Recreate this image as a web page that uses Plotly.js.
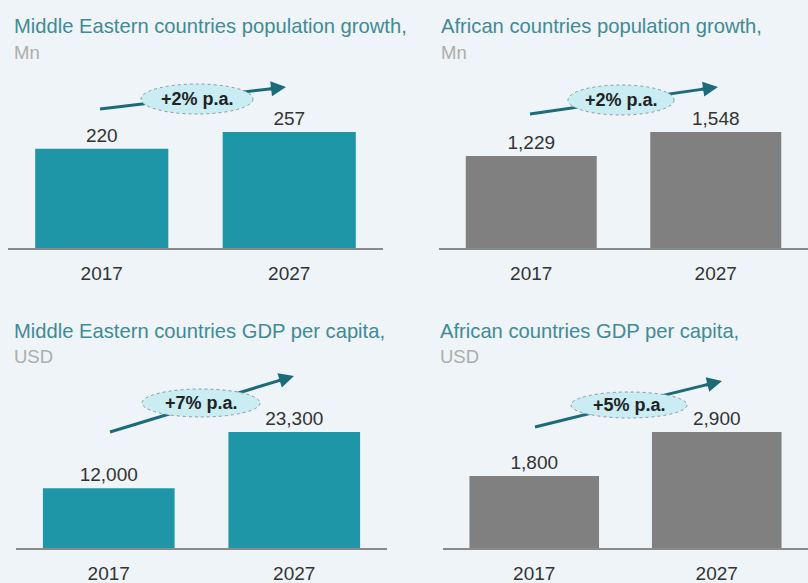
<!DOCTYPE html>
<html><head><meta charset="utf-8">
<script src="https://cdn.plot.ly/plotly-3.0.1.min.js"></script>
<style>html,body{margin:0;padding:0;background:#eef4f7;}</style>
</head><body><div id="chart" style="width:808px;height:583px;"></div>
<script>
var years = ['2017', '2027'];
var mePopulation = [220, 257];
var afPopulation = [1229, 1548];
var meGdp = [12000, 23300];
var afGdp = [1800, 2900];
var titles = ['Middle Eastern countries population growth,', 'African countries population growth,',
              'Middle Eastern countries GDP per capita,', 'African countries GDP per capita,'];
var units = ['Mn', 'Mn', 'USD', 'USD'];
var growth = ['+2% p.a.', '+2% p.a.', '+7% p.a.', '+5% p.a.'];

var W = 808, H = 583;
var teal = 'rgb(31,150,168)', grey = 'rgb(128,128,128)';
function px(x){return x / W;}
function py(y){return 1 - y / H;}

var series = [mePopulation, afPopulation, meGdp, afGdp];
var colors = [teal, grey, teal, grey];
var traces = [];
for (var i = 0; i < 4; i++) {
  var s = i === 0 ? '' : String(i + 1);
  traces.push({
    type: 'bar', x: years, y: series[i], xaxis: 'x' + s, yaxis: 'y' + s,
    marker: {color: colors[i]}, width: 0.71,
    texttemplate: '%{y:,}', textposition: 'outside', cliponaxis: false,
    textfont: {family: 'Liberation Sans, Arial, sans-serif', size: 19, color: '#333'},
    hoverinfo: 'skip'
  });
}

// panel pixel geometry
var panels = [
  {x0: 8, x1: 383, base: 248, top: 132, tx: 12, ty: 26, uy: 52},
  {x0: 439, x1: 808, base: 248, top: 132, tx: 439, ty: 26, uy: 52},
  {x0: 16, x1: 387, base: 548, top: 432, tx: 12, ty: 331, uy: 356},
  {x0: 443, x1: 808, base: 548, top: 432, tx: 438, ty: 331, uy: 356}
];
// growth arrow geometry: tail, head, ellipse centre/size
var arrows = [
  {t: [100, 109], h: [286, 87], c: [197, 99], rx: 56, ry: 15},
  {t: [530, 114], h: [718, 87], c: [621, 100], rx: 53, ry: 15},
  {t: [110, 432], h: [294, 376], c: [201, 403], rx: 59, ry: 14},
  {t: [535, 427], h: [722, 381], c: [629, 405], rx: 58, ry: 13}
];

var layout = {
  width: W, height: H, margin: {l: 0, r: 0, t: 0, b: 0},
  paper_bgcolor: '#eef4f7', plot_bgcolor: 'rgba(0,0,0,0)',
  showlegend: false,
  font: {family: 'Liberation Sans, Arial, sans-serif'},
  shapes: [], annotations: []
};
for (var i = 0; i < 4; i++) {
  var s = i === 0 ? '' : String(i + 1);
  var p = panels[i];
  layout['xaxis' + s] = {
    domain: [px(p.x0), px(p.x1)], anchor: 'y' + s, type: 'category',
    range: [-0.5, 1.5], showline: true, linecolor: '#8a8a8a', linewidth: 2,
    ticks: '', showgrid: false, zeroline: false, fixedrange: true,
    tickfont: {size: 19, color: '#333'}, ticklabelstandoff: 7
  };
  layout['yaxis' + s] = {
    domain: [py(p.base), py(p.top)], anchor: 'x' + s,
    range: [0, Math.max.apply(null, series[i])], visible: false, fixedrange: true
  };
  layout.annotations.push({
    xref: 'paper', yref: 'paper', x: px(p.tx), y: py(p.ty), xanchor: 'left', yanchor: 'middle',
    showarrow: false, text: titles[i],
    font: {size: 20.2, color: 'rgb(66,138,148)'}
  });
  layout.annotations.push({
    xref: 'paper', yref: 'paper', x: px(p.tx), y: py(p.uy), xanchor: 'left', yanchor: 'middle',
    showarrow: false, text: units[i],
    font: {size: 18.5, color: '#adadad'}
  });
  var a = arrows[i];
  var dx = a.h[0] - a.t[0], dy = a.h[1] - a.t[1];
  var len = Math.sqrt(dx * dx + dy * dy);
  layout.shapes.push({
    type: 'line', xref: 'paper', yref: 'paper',
    x0: px(a.t[0]), y0: py(a.t[1]), x1: px(a.h[0] - dx / len * 8), y1: py(a.h[1] - dy / len * 8),
    line: {color: '#1d6b78', width: 3}
  });
  layout.shapes.push({
    type: 'circle', xref: 'paper', yref: 'paper',
    x0: px(a.c[0] - a.rx), x1: px(a.c[0] + a.rx), y0: py(a.c[1] + a.ry), y1: py(a.c[1] - a.ry),
    fillcolor: '#c9edf3', line: {color: '#8a9aa0', width: 1, dash: 'dot'}
  });
  layout.annotations.push({
    xref: 'paper', yref: 'paper', x: px(a.h[0]), y: py(a.h[1]), text: '',
    showarrow: true, arrowhead: 2, arrowsize: 1, arrowwidth: 3, arrowcolor: '#1d6b78',
    ax: -dx / len * 18, ay: -dy / len * 18, standoff: 0
  });
  layout.annotations.push({
    xref: 'paper', yref: 'paper', x: px(a.c[0]), y: py(a.c[1]), xanchor: 'center', yanchor: 'middle',
    showarrow: false, text: '<b>' + growth[i] + '</b>', font: {size: 18, color: '#222'}
  });
}
Plotly.newPlot('chart', traces, layout, {displayModeBar: false, staticPlot: true});
</script></body></html>
